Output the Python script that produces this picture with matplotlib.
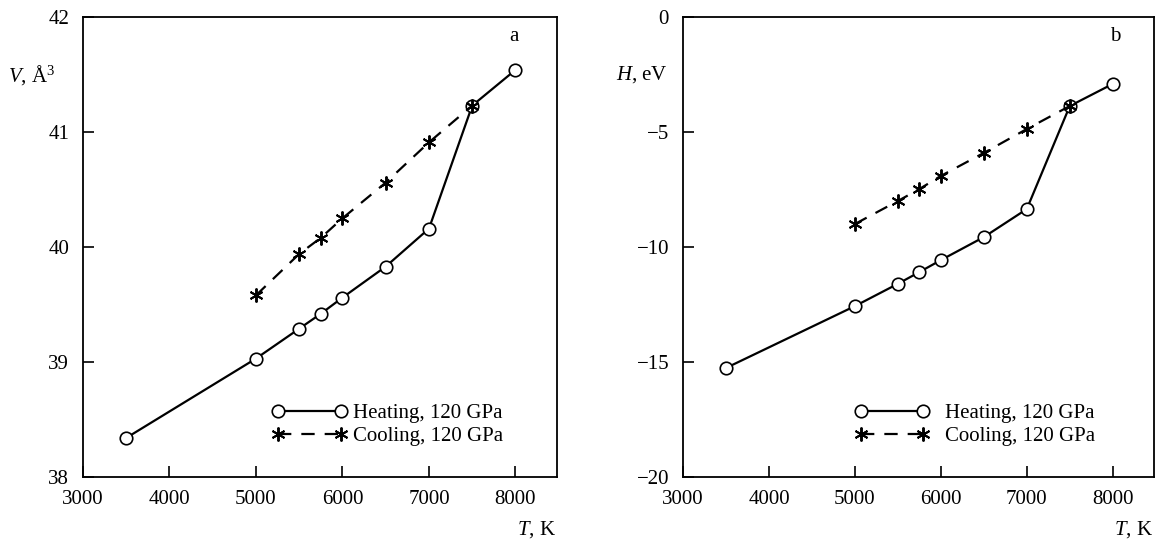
import matplotlib
matplotlib.use("Agg")
import matplotlib.pyplot as plt

T_heat = [3500, 5000, 5500, 5750, 6000, 6500, 7000, 7500, 8000]
V_heat = [38.34, 39.03, 39.29, 39.42, 39.56, 39.83, 40.16, 41.23, 41.54]
T_cool = [5000, 5500, 5750, 6000, 6500, 7000, 7500]
V_cool = [39.58, 39.94, 40.08, 40.25, 40.56, 40.91, 41.23]

H_heat = [-15.26, -12.57, -11.6, -11.09, -10.57, -9.57, -8.35, -3.87, -2.91]
H_cool = [-9.0, -8.0, -7.48, -6.91, -5.91, -4.87, -3.87]

x_ticks = [3000, 4000, 5000, 6000, 7000, 8000]
v_ticks = [38, 39, 40, 41, 42]
h_ticks = [-20, -15, -10, -5, 0]

heat_label = "Heating, 120 GPa"
cool_label = "Cooling, 120 GPa"

plt.rcParams['font.family'] = ['Liberation Serif', 'DejaVu Serif']
plt.rcParams['mathtext.fontset'] = 'custom'
plt.rcParams['mathtext.rm'] = 'Liberation Serif'
plt.rcParams['mathtext.it'] = 'Liberation Serif:italic'

fig = plt.figure(figsize=(11.59, 5.42), dpi=100)
axL = fig.add_axes([83/1159, 1-477/542, (557-83)/1159, 460/542])
axR = fig.add_axes([683/1159, 1-477/542, (1154-683)/1159, 460/542])

star = (6, 2, 0)
FS = 15

def draw(ax, yh, yc, yticks, ylim, ylab, ylab_x, letter, letter_x, tpad, leg_x):
    ax.plot(T_heat, yh, '-', color='black', lw=1.6, marker='o', ms=9,
            mfc='white', mec='black', mew=1.2, label=heat_label, zorder=3)
    ax.plot(T_cool, yc, color='black', lw=1.6, ls=(0, (6, 4.5)), marker=star,
            ms=10, mec='black', mew=1.4, label=cool_label, zorder=4)
    ax.set_xlim(3000, 8480)
    ax.set_ylim(*ylim)
    ax.set_xticks(x_ticks)
    ax.set_yticks(yticks)
    ax.tick_params(direction='in', length=8, width=1.2, labelsize=FS,
                   top=False, right=False)
    ax.tick_params(axis='y', pad=10)
    ax.tick_params(axis='x', pad=9)
    for s in ax.spines.values():
        s.set_linewidth(1.3)
    ax.text(ylab_x, 0.874, ylab, transform=ax.transAxes, ha='right',
            va='center', fontsize=FS)
    ax.text(0.997, -0.115, r'$T$, K', transform=ax.transAxes, ha='right',
            va='center', fontsize=FS)
    ax.text(letter_x, 0.957, letter, transform=ax.transAxes, ha='center',
            va='center', fontsize=FS)
    ax.legend(loc='lower right', bbox_to_anchor=(leg_x, 0.036), frameon=False,
              fontsize=FS, numpoints=2, handlelength=3.6,
              handletextpad=tpad, labelspacing=0.15, borderaxespad=0.3)

draw(axL, V_heat, V_cool, v_ticks, (38, 42), r'$V$, Å$^3$', -0.058, 'a', 0.909, 0.3, 0.918)
draw(axR, H_heat, H_cool, h_ticks, (-20, 0), r'$H$, eV', -0.032, 'b', 0.917, 0.75, 0.906)

fig.savefig('out.png', dpi=100)
